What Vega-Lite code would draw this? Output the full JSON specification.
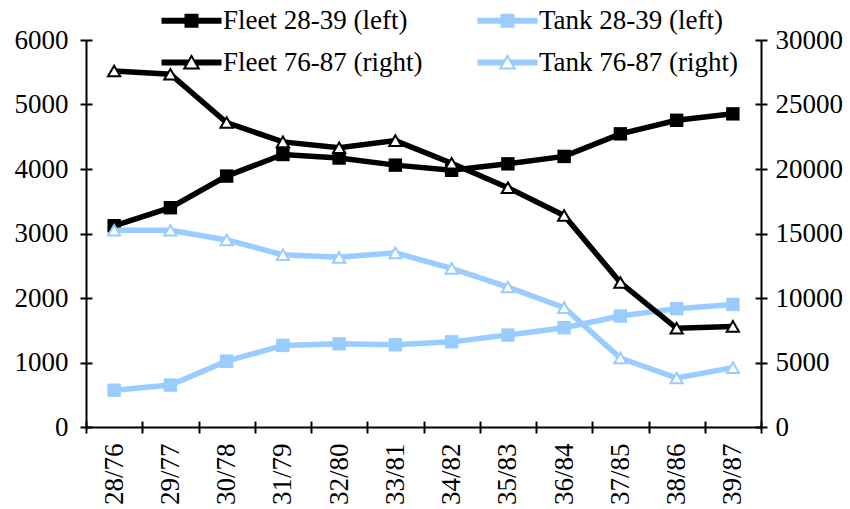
{
  "$schema": "https://vega.github.io/schema/vega-lite/v6.json",
  "width": 675,
  "height": 387,
  "autosize": {"type": "none"},
  "padding": {"left": 86, "top": 40, "right": 89, "bottom": 82},
  "background": "white",
  "config": {
    "view": {"stroke": null},
    "font": "Liberation Serif",
    "axis": {
      "labelFont": "Liberation Serif",
      "labelFontSize": 27,
      "labelColor": "black",
      "domainColor": "black",
      "domainWidth": 2,
      "tickColor": "black",
      "tickWidth": 2,
      "grid": false,
      "title": null
    }
  },
  "data": {
    "values": [
      {"season": "28/76", "series": "Fleet 28-39 (left)", "value": 3120},
      {"season": "29/77", "series": "Fleet 28-39 (left)", "value": 3400},
      {"season": "30/78", "series": "Fleet 28-39 (left)", "value": 3890},
      {"season": "31/79", "series": "Fleet 28-39 (left)", "value": 4225},
      {"season": "32/80", "series": "Fleet 28-39 (left)", "value": 4170},
      {"season": "33/81", "series": "Fleet 28-39 (left)", "value": 4060},
      {"season": "34/82", "series": "Fleet 28-39 (left)", "value": 3980},
      {"season": "35/83", "series": "Fleet 28-39 (left)", "value": 4080},
      {"season": "36/84", "series": "Fleet 28-39 (left)", "value": 4195},
      {"season": "37/85", "series": "Fleet 28-39 (left)", "value": 4545},
      {"season": "38/86", "series": "Fleet 28-39 (left)", "value": 4755},
      {"season": "39/87", "series": "Fleet 28-39 (left)", "value": 4855},
      {"season": "28/76", "series": "Tank 28-39 (left)", "value": 570},
      {"season": "29/77", "series": "Tank 28-39 (left)", "value": 650},
      {"season": "30/78", "series": "Tank 28-39 (left)", "value": 1020},
      {"season": "31/79", "series": "Tank 28-39 (left)", "value": 1265},
      {"season": "32/80", "series": "Tank 28-39 (left)", "value": 1290},
      {"season": "33/81", "series": "Tank 28-39 (left)", "value": 1275},
      {"season": "34/82", "series": "Tank 28-39 (left)", "value": 1320},
      {"season": "35/83", "series": "Tank 28-39 (left)", "value": 1425},
      {"season": "36/84", "series": "Tank 28-39 (left)", "value": 1540},
      {"season": "37/85", "series": "Tank 28-39 (left)", "value": 1720},
      {"season": "38/86", "series": "Tank 28-39 (left)", "value": 1835},
      {"season": "39/87", "series": "Tank 28-39 (left)", "value": 1900},
      {"season": "28/76", "series": "Fleet 76-87 (right)", "value": 27600},
      {"season": "29/77", "series": "Fleet 76-87 (right)", "value": 27350},
      {"season": "30/78", "series": "Fleet 76-87 (right)", "value": 23600},
      {"season": "31/79", "series": "Fleet 76-87 (right)", "value": 22100},
      {"season": "32/80", "series": "Fleet 76-87 (right)", "value": 21650},
      {"season": "33/81", "series": "Fleet 76-87 (right)", "value": 22200},
      {"season": "34/82", "series": "Fleet 76-87 (right)", "value": 20450},
      {"season": "35/83", "series": "Fleet 76-87 (right)", "value": 18550},
      {"season": "36/84", "series": "Fleet 76-87 (right)", "value": 16400},
      {"season": "37/85", "series": "Fleet 76-87 (right)", "value": 11200},
      {"season": "38/86", "series": "Fleet 76-87 (right)", "value": 7650},
      {"season": "39/87", "series": "Fleet 76-87 (right)", "value": 7800},
      {"season": "28/76", "series": "Tank 76-87 (right)", "value": 15250},
      {"season": "29/77", "series": "Tank 76-87 (right)", "value": 15250},
      {"season": "30/78", "series": "Tank 76-87 (right)", "value": 14500},
      {"season": "31/79", "series": "Tank 76-87 (right)", "value": 13350},
      {"season": "32/80", "series": "Tank 76-87 (right)", "value": 13150},
      {"season": "33/81", "series": "Tank 76-87 (right)", "value": 13500},
      {"season": "34/82", "series": "Tank 76-87 (right)", "value": 12300},
      {"season": "35/83", "series": "Tank 76-87 (right)", "value": 10850},
      {"season": "36/84", "series": "Tank 76-87 (right)", "value": 9250},
      {"season": "37/85", "series": "Tank 76-87 (right)", "value": 5350},
      {"season": "38/86", "series": "Tank 76-87 (right)", "value": 3800},
      {"season": "39/87", "series": "Tank 76-87 (right)", "value": 4600}
    ]
  },
  "resolve": {"scale": {"x": "independent", "y": "independent"}},
  "layer": [
    {
      "transform": [{"filter": "datum.series === 'Fleet 28-39 (left)'"}],
      "encoding": {
        "x": {
          "field": "season", "type": "ordinal", "sort": null,
          "scale": {"type": "band", "paddingInner": 0, "paddingOuter": 0},
          "axis": {"orient": "bottom", "labelAngle": -90, "tickBand": "extent", "tickSize": 6, "labelPadding": 10, "labelFont": "Liberation Serif", "labelFontSize": 27}
        },
        "y": {
          "field": "value", "type": "quantitative",
          "scale": {"domain": [0, 6000], "nice": false},
          "axis": {"orient": "left", "values": [0, 1000, 2000, 3000, 4000, 5000, 6000], "format": "d", "tickSize": 6, "labelPadding": 12, "labelFont": "Liberation Serif", "labelFontSize": 27}
        },
        "color": {
          "field": "series", "type": "nominal",
          "scale": {
            "domain": ["Fleet 28-39 (left)", "Tank 28-39 (left)", "Fleet 76-87 (right)", "Tank 76-87 (right)"],
            "range": ["#000000", "#99CCFF", "#000000", "#99CCFF"]
          },
          "legend": {
            "orient": "none",
            "direction": "horizontal",
            "legendX": 92,
            "legendY": -33,
            "columns": 2,
            "title": null,
            "labelFont": "Liberation Serif",
            "labelFontSize": 27,
            "labelColor": "black",
            "labelLimit": 400,
            "labelOffset": 18,
            "symbolSize": 400,
            "columnPadding": 54,
            "rowPadding": 14,
            "encode": {
              "symbols": {
                "update": {
                  "shape": {"signal": "datum.value === 'Fleet 28-39 (left)' || datum.value === 'Tank 28-39 (left)' ? 'M-3,-0.3H-0.7V-0.7H0.7V-0.3H3V0.3H0.7V0.7H-0.7V0.3H-3Z' : 'M-3,-0.3L-0.319,-0.3L-0.668,0.3L-3,0.3Z M3,-0.3L0.319,-0.3L0.668,0.3L3,0.3Z M0,-0.85L0.9,0.7L-0.9,0.7Z M0,-0.45L-0.55,0.5L0.55,0.5Z'"},
                  "fill": {"scale": "color", "field": "value"},
                  "stroke": {"value": "transparent"},
                  "strokeWidth": {"value": 0},
                  "opacity": {"value": 1},
                  "size": {"value": 400}
                }
              }
            }
          }
        }
      },
      "layer": [
        {"mark": {"type": "line", "strokeWidth": 5.5}},
        {"mark": {"type": "square", "size": 180, "opacity": 1}}
      ]
    },
    {
      "transform": [{"filter": "datum.series === 'Tank 28-39 (left)'"}],
      "encoding": {
        "x": {
          "field": "season", "type": "ordinal", "sort": null,
          "scale": {"type": "band", "paddingInner": 0, "paddingOuter": 0},
          "axis": {"orient": "bottom", "labels": false, "domain": false, "tickBand": "extent", "tickSize": -6}
        },
        "y": {
          "field": "value", "type": "quantitative",
          "scale": {"domain": [0, 6000], "nice": false},
          "axis": {"orient": "left", "values": [0, 1000, 2000, 3000, 4000, 5000, 6000], "labels": false, "domain": false, "tickSize": -6}
        },
        "color": {"field": "series", "type": "nominal"}
      },
      "layer": [
        {"mark": {"type": "line", "strokeWidth": 5.5}},
        {"mark": {"type": "square", "size": 180, "opacity": 1}}
      ]
    },
    {
      "transform": [{"filter": "datum.series === 'Fleet 76-87 (right)'"}],
      "encoding": {
        "x": {
          "field": "season", "type": "ordinal", "sort": null,
          "scale": {"type": "band", "paddingInner": 0, "paddingOuter": 0},
          "axis": null
        },
        "y": {
          "field": "value", "type": "quantitative",
          "scale": {"domain": [0, 30000], "nice": false},
          "axis": {"orient": "right", "values": [0, 5000, 10000, 15000, 20000, 25000, 30000], "format": "d", "tickSize": 6, "labelPadding": 8, "labelFont": "Liberation Serif", "labelFontSize": 27}
        },
        "color": {"field": "series", "type": "nominal"}
      },
      "layer": [
        {"mark": {"type": "line", "strokeWidth": 5.5}},
        {"mark": {"type": "point", "shape": "triangle-up", "size": 150, "filled": false, "fill": "white", "strokeWidth": 2, "opacity": 1}}
      ]
    },
    {
      "transform": [{"filter": "datum.series === 'Tank 76-87 (right)'"}],
      "encoding": {
        "x": {
          "field": "season", "type": "ordinal", "sort": null,
          "scale": {"type": "band", "paddingInner": 0, "paddingOuter": 0},
          "axis": null
        },
        "y": {
          "field": "value", "type": "quantitative",
          "scale": {"domain": [0, 30000], "nice": false},
          "axis": {"orient": "right", "values": [0, 5000, 10000, 15000, 20000, 25000, 30000], "labels": false, "domain": false, "tickSize": -6}
        },
        "color": {"field": "series", "type": "nominal"}
      },
      "layer": [
        {"mark": {"type": "line", "strokeWidth": 5.5}},
        {"mark": {"type": "point", "shape": "triangle-up", "size": 150, "filled": false, "fill": "white", "strokeWidth": 2, "opacity": 1}}
      ]
    }
  ]
}
